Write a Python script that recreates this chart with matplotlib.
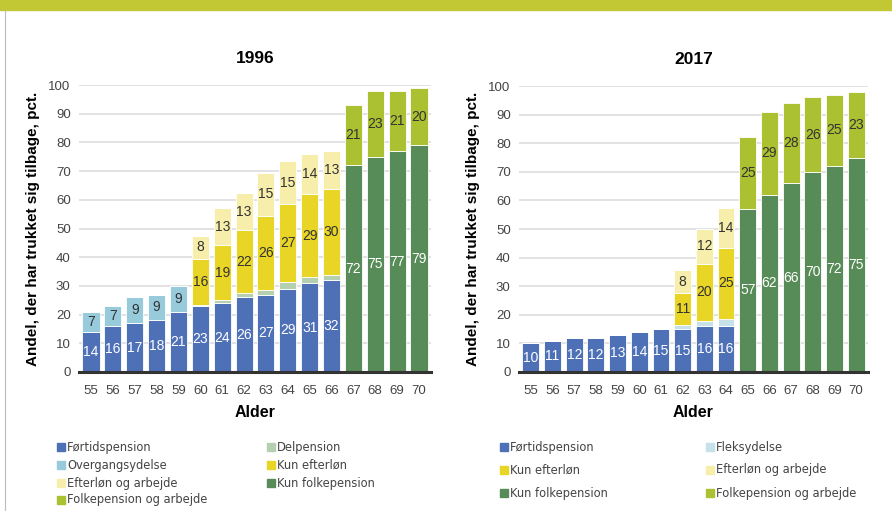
import matplotlib.pyplot as plt
import numpy as np
from matplotlib.patches import Rectangle
from matplotlib.lines import Line2D

plt.rcParams['font.family'] = ['Liberation Sans', 'DejaVu Sans']

ages = list(range(55, 71))

# 1996
fortid_96 = [14, 16, 17, 18, 21, 23, 24, 26, 27, 29, 31, 32, 0, 0, 0, 0]
delpen_96 = [0, 0, 0, 0, 0, 0.5, 1.1, 1.4, 1.5, 2.4, 2.0, 1.9, 0, 0, 0, 0]
overg_96 = [7, 7, 9, 9, 9, 0, 0, 0, 0, 0, 0, 0, 0, 0, 0, 0]
efterlon_96 = [0, 0, 0, 0, 0, 16, 19, 22, 26, 27, 29, 30, 0, 0, 0, 0]
eftarb_96 = [0, 0, 0, 0, 0, 8, 13, 13, 15, 15, 14, 13, 0, 0, 0, 0]
folke_96 = [0] * 12 + [72, 75, 77, 79]
folkarb_96 = [0] * 12 + [21, 23, 21, 20]

# 2017
fortid_17 = [10, 11, 12, 12, 13, 14, 15, 15, 16, 16, 0, 0, 0, 0, 0, 0]
fleks_17 = [0] * 7 + [1.5, 1.9, 2.5] + [0] * 6
efterlon_17 = [0] * 7 + [11, 20, 25] + [0] * 6
eftarb_17 = [0] * 7 + [8, 12, 14] + [0] * 6
folke_17 = [0] * 10 + [57, 62, 66, 70, 72, 75]
folkarb_17 = [0] * 10 + [25, 29, 28, 26, 25, 23]

colors = {
	'Førtidspension': '#4e70b7',
	'Delpension': '#b4d0b0',
	'Overgangsydelse': '#97cbdb',
	'Fleksydelse': '#c6e1e9',
	'Kun efterløn': '#e8d526',
	'Efterløn og arbejde': '#f7eeab',
	'Kun folkepension': '#578b57',
	'Folkepension og arbejde': '#acc132',
}
white_labels = {'Førtidspension', 'Kun folkepension'}


def draw_panel(ax, series, title, show_ylabel):
	x = np.arange(len(ages))
	bottom = np.zeros(len(ages))
	for name, vals, label in series:
		vals = np.array(vals, dtype=float)
		ax.bar(x, vals, 0.78, bottom=bottom, color=colors[name],
		       edgecolor='white', linewidth=0.6, zorder=3)
		if label:
			for xi, v, b in zip(x, vals, bottom):
				if v > 0:
					c = 'white' if name in white_labels else '#333333'
					ax.text(xi, b + v / 2, f'{v:.0f}', ha='center', va='center',
					        fontsize=10, color=c, zorder=4)
		bottom += vals

	ax.set_xlim(-0.55, len(ages) - 0.45)
	ax.set_ylim(0, 100)
	ax.set_yticks(range(0, 101, 10))
	ax.set_xticks(x)
	ax.set_xticklabels(ages)
	ax.tick_params(length=0, labelsize=9.5, colors='#444444', pad=6)
	ax.tick_params(axis='x', pad=9)
	ax.grid(axis='y', color='#dddddd', linewidth=1.2, zorder=0)
	for s in ['top', 'right', 'left']:
		ax.spines[s].set_visible(False)
	ax.spines['bottom'].set_color('#333333')
	ax.spines['bottom'].set_linewidth(2.2)
	ax.spines['bottom'].set_zorder(5)
	ax.set_xlabel('Alder', fontsize=11.5, fontweight='bold', labelpad=6)
	ax.set_title(title, fontsize=12.5, fontweight='bold', pad=16)
	if show_ylabel:
		ax.set_ylabel('Andel, der har trukket sig tilbage, pct.', fontsize=11,
		              fontweight='bold', labelpad=6)


fig = plt.figure(figsize=(8.92, 5.11), dpi=100)

# top band and left frame line
fig.add_artist(Rectangle((0, 1 - 10 / 511), 1, 10 / 511, transform=fig.transFigure,
                         color='#c1c833', zorder=0))
fig.add_artist(Line2D([5 / 892, 5 / 892], [0, 1 - 10 / 511], transform=fig.transFigure,
                      color='#bbbbbb', linewidth=0.8))

ax1 = fig.add_axes([79 / 892, 1 - 372 / 511, 352 / 892, 287 / 511])
ax2 = fig.add_axes([519 / 892, 1 - 372 / 511, 349 / 892, 286 / 511])

series_96 = [
	('Førtidspension', fortid_96, True),
	('Delpension', delpen_96, False),
	('Overgangsydelse', overg_96, True),
	('Kun efterløn', efterlon_96, True),
	('Efterløn og arbejde', eftarb_96, True),
	('Kun folkepension', folke_96, True),
	('Folkepension og arbejde', folkarb_96, True),
]
series_17 = [
	('Førtidspension', fortid_17, True),
	('Fleksydelse', fleks_17, False),
	('Kun efterløn', efterlon_17, True),
	('Efterløn og arbejde', eftarb_17, True),
	('Kun folkepension', folke_17, True),
	('Folkepension og arbejde', folkarb_17, True),
]

draw_panel(ax1, series_96, '1996', True)
draw_panel(ax2, series_17, '2017', True)


def legend_block(names, x0, x1, rows_y, fs):
	for i, name in enumerate(names):
		col = i % 2
		row = i // 2
		xm = (x0 if col == 0 else x1) / 892
		ym = 1 - rows_y[row] / 511
		fig.add_artist(Rectangle((xm, ym - 4 / 511), 8 / 892, 8 / 511,
		                         transform=fig.transFigure, color=colors[name]))
		fig.text(xm + 10 / 892, ym, name, fontsize=fs, color='#444444', va='center',
		         family=['DejaVu Sans'])


legend_block(['Førtidspension', 'Delpension', 'Overgangsydelse', 'Kun efterløn',
              'Efterløn og arbejde', 'Kun folkepension', 'Folkepension og arbejde'],
             57, 267, [447, 465, 483, 500], 8.3)
legend_block(['Førtidspension', 'Fleksydelse', 'Kun efterløn', 'Efterløn og arbejde',
              'Kun folkepension', 'Folkepension og arbejde'],
             500, 706, [447, 470, 493], 8.3)

fig.savefig('out.png', dpi=100)
